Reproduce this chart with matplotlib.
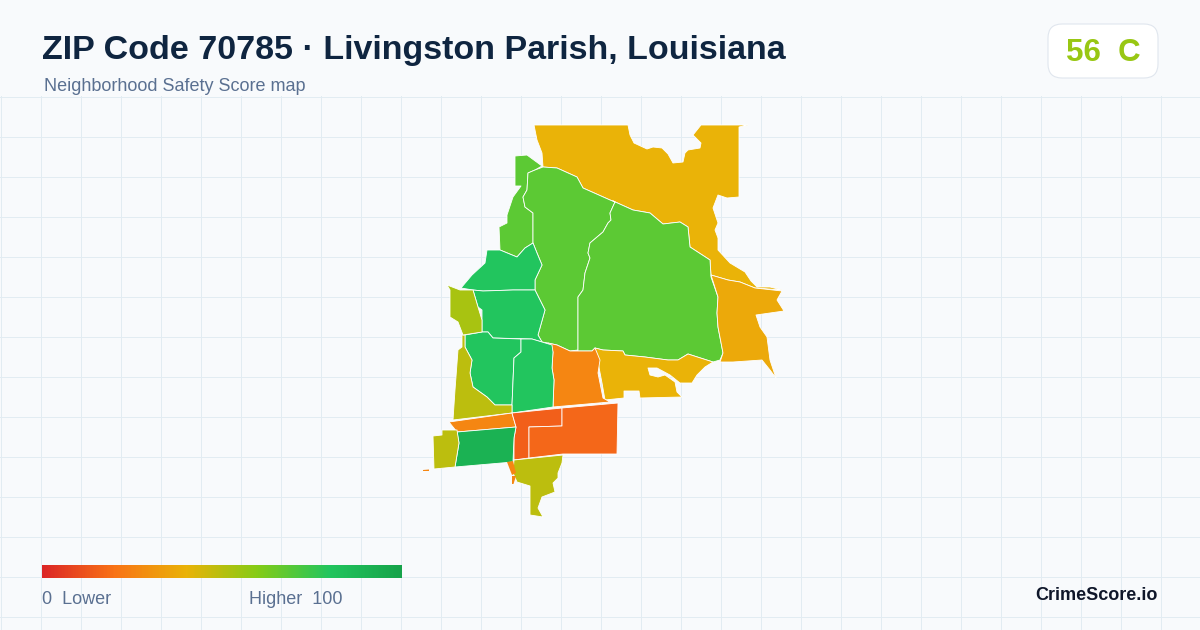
import numpy as np
import matplotlib
matplotlib.use("Agg")
import matplotlib.pyplot as plt
from matplotlib.colors import LinearSegmentedColormap
from matplotlib.patches import FancyBboxPatch, Polygon

plt.rcParams['font.family'] = ['Liberation Sans', 'DejaVu Sans']

TITLE = "ZIP Code 70785 · Livingston Parish, Louisiana"
SUBTITLE = "Neighborhood Safety Score map"
SCORE_TEXT = "56  C"
OVERALL_SCORE = 56
BRAND = "CrimeScore.io"

GRADIENT_POS = [0, .2, .4, .6, .8, 1]
GRADIENT_COL = ['#dc2626', '#f97316', '#eab308', '#84cc16', '#22c55e', '#16a34a']

north = [(534,125),(628,125),(630,135),(634,143),(647,149),(653,147),(662,148),(668,154),(673,163),(683,162),(685,153),(688,150),(700,148),(701,143),(693,135),(701,125),(748,125),(739,127),(739,197),(727,198),(718,195),(713,208),(718,223),(715,230),(718,238),(718,250),(730,263),(745,272),(751,281),(757,287),(770,287),(782,290),(755,288),(740,282),(728,280),(711,275),(710,260),(690,247),(688,227),(680,222),(663,224),(650,213),(633,210),(613,201),(610,200),(583,188),(577,177),(557,168),(543,167),(542,153),(537,140)]
northwest_lime = [(515,156),(527,155),(542,166),(535,170),(528,173),(527,190),(523,197),(525,207),(533,213),(533,243),(525,248),(517,257),(500,250),(499,227),(507,223),(507,215),(513,197),(521,186),(515,186)]
central_lime = [(543,167),(557,168),(577,177),(583,188),(610,200),(615,202),(610,213),(611,220),(608,223),(603,232),(590,243),(588,253),(590,258),(585,273),(583,290),(578,297),(578,350),(570,351),(557,345),(548,343),(542,342),(538,335),(545,310),(535,290),(535,280),(542,265),(537,253),(533,243),(533,213),(525,207),(523,197),(527,190),(528,173),(535,170)]
big_lime = [(613,201),(633,210),(650,213),(663,224),(680,222),(688,227),(690,247),(710,260),(711,277),(718,297),(717,313),(718,327),(723,353),(720,360),(713,362),(688,354),(678,360),(668,360),(645,357),(625,355),(623,351),(603,350),(595,348),(592,351),(578,351),(578,297),(583,290),(585,273),(590,258),(588,253),(590,243),(603,232),(608,223),(611,220),(610,213),(615,202)]
east = [(711,275),(728,280),(740,282),(755,288),(782,291),(777,300),(784,311),(756,315),(760,327),(767,337),(770,360),(776,378),(770,370),(762,360),(733,362),(720,362),(723,353),(718,327),(717,313),(718,297)]
south_yellow = [(595,348),(603,350),(623,351),(625,355),(645,357),(668,360),(678,360),(688,354),(713,362),(705,367),(697,375),(692,383),(680,383),(670,375),(657,368),(648,368),(650,375),(658,377),(665,375),(675,382),(677,392),(682,397),(640,398),(639,391),(624,391),(624,398),(605,400),(602,383),(597,357)]
center_orange = [(548,343),(557,345),(570,351),(592,351),(595,348),(600,360),(598,373),(603,398),(610,402),(553,407),(554,380),(552,368),(553,352)]
north_green = [(461,288),(472,275),(485,263),(487,250),(500,250),(517,257),(525,248),(533,243),(537,253),(542,265),(535,280),(535,290),(513,290),(483,291),(473,290)]
mid_green = [(473,290),(483,291),(513,290),(535,290),(545,310),(538,335),(542,342),(532,339),(493,338),(488,332),(482,332),(482,310),(478,307)]
west_green = [(465,335),(482,332),(488,332),(493,338),(521,339),(521,352),(514,358),(512,405),(495,405),(487,397),(473,387),(470,373),(472,360),(465,347)]
east_green = [(521,339),(532,339),(542,342),(552,345),(553,352),(552,368),(554,380),(553,407),(512,413),(512,405),(514,358),(521,352)]
west_olive = [(462,335),(465,335),(465,347),(472,360),(470,373),(473,387),(487,397),(495,405),(512,405),(512,413),(453,420),(455,390),(458,350),(462,347)]
upper_olive = [(447,285),(460,290),(473,290),(478,307),(482,320),(482,332),(463,335),(458,322),(450,317),(450,290)]
strip_orange = [(449,422),(512,413),(516,427),(457,432)]
red_orange_a = [(512,413),(562,408),(562,426),(529,427),(529,458),(514,460),(514,438),(516,427)]
red_orange_b = [(562,408),(618,403),(617,454),(563,454),(529,458),(529,427),(562,426)]
strong_green = [(457,432),(516,427),(514,438),(513,462),(455,467),(459,443)]
far_west_olive = [(433,436),(442,435),(442,430),(457,430),(459,443),(455,467),(434,469)]
south_olive = [(514,460),(563,455),(562,463),(558,473),(558,478),(553,483),(555,492),(542,497),(538,508),(543,517),(530,515),(530,486),(517,482),(513,473)]
tiny_orange_a = [(507,462),(513,461),(516,473),(512,475)]
tiny_orange_b = [(512,476),(516,476),(513.5,484),(512,484)]
tiny_orange_c = [(423,470),(429,469.5),(429,471),(423,471)]

zones = [north, northwest_lime, central_lime, big_lime, east, south_yellow, center_orange,
         north_green, mid_green, west_green, east_green, west_olive, upper_olive, strip_orange,
         red_orange_a, red_orange_b, strong_green, far_west_olive, south_olive,
         tiny_orange_a, tiny_orange_b, tiny_orange_c]
zone_scores = [40, 68, 68, 68, 37, 40, 26,
               80, 80, 80, 80, 49, 53, 26,
               15, 17, 91, 49, 49,
               26, 26, 26]

cmap = LinearSegmentedColormap.from_list('safety', list(zip(GRADIENT_POS, GRADIENT_COL)))

fig = plt.figure(figsize=(12, 6.3), dpi=100, facecolor='#f8fafc')
ax = fig.add_axes([0, 0, 1, 1])
ax.set_xlim(0, 1200)
ax.set_ylim(630, 0)
ax.axis('off')

for x in range(0, 1200, 40):
    ax.plot([x + .5, x + .5], [96, 630], color='#e2ecf2', lw=0.72, zorder=1)
for y in range(96, 630, 40):
    ax.plot([0, 1200], [y + .5, y + .5], color='#e2ecf2', lw=0.72, zorder=1)

for pts, s in zip(zones, zone_scores):
    thin = len(pts) == 4 and max(p[1] for p in pts) - min(p[1] for p in pts) < 25 and max(p[0] for p in pts) - min(p[0] for p in pts) < 10
    ax.add_patch(Polygon(pts, closed=True, facecolor=cmap(s / 100), edgecolor='white',
                         lw=0 if thin else 0.6, joinstyle='round', zorder=3))

ax.text(42, 50, TITLE, fontsize=24.5, fontweight='bold', color='#0f2540', va='center', ha='left', zorder=5)
ax.text(44, 86.5, SUBTITLE, fontsize=12.95, color='#5a7091', va='center', ha='left', zorder=5)

ax.add_patch(FancyBboxPatch((1062, 38), 82, 26, boxstyle='round,pad=14,rounding_size=14',
                            facecolor='white', edgecolor='#e0e6ee', lw=0.8, zorder=4))
ax.text(1103, 53, SCORE_TEXT, fontsize=22.5, fontweight='bold', color=cmap(OVERALL_SCORE / 100),
        va='center', ha='center', zorder=5)

grad = np.linspace(0, 1, 360).reshape(1, -1)
ax.imshow(grad, cmap=cmap, extent=(42, 402, 578, 565), aspect='auto', zorder=4, vmin=0, vmax=1)
ax.set_xlim(0, 1200)
ax.set_ylim(630, 0)

ax.text(42, 599, "0  Lower", fontsize=12.95, color='#5a7091', va='center', ha='left', zorder=5)
ax.text(249, 599, "Higher  100", fontsize=12.95, color='#5a7091', va='center', ha='left', zorder=5)
ax.text(1158, 595, BRAND, fontsize=13, fontweight='bold', color='#0f172a', va='center', ha='right', zorder=5)

fig.savefig('out.png', dpi=100, facecolor=fig.get_facecolor())
